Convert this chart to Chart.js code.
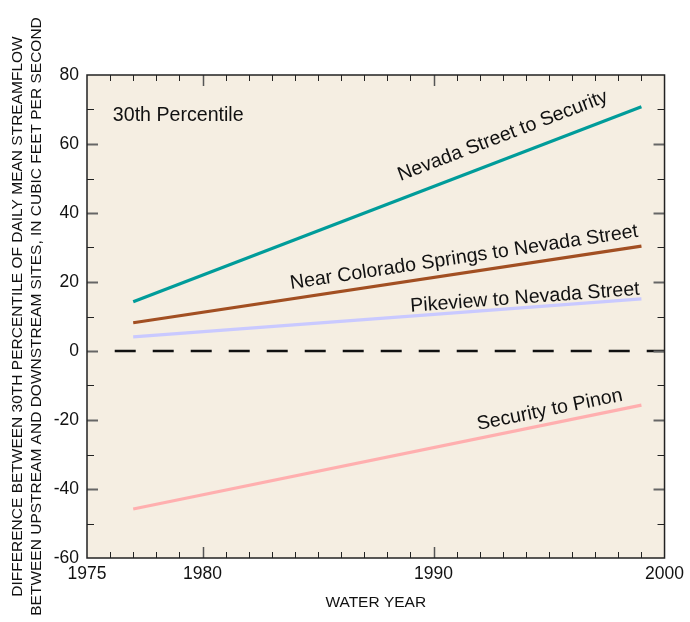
<!DOCTYPE html>
<html><head><meta charset="utf-8">
<script src="https://cdn.jsdelivr.net/npm/chart.js@4/dist/chart.umd.min.js"></script>
<style>html,body{margin:0;padding:0;background:#fff}#wrap{width:690px;height:622px}</style>
</head><body><div id="wrap"><canvas id="c" width="690" height="622"></canvas></div>
<script>
// ---- data ----
const years = [1977, 1999];
const nevadaToSecurity = [14.3, 70.8];
const nearCSToNevada = [8.2, 30.4];
const pikeviewToNevada = [4.1, 15.1];
const securityToPinon = [-45.8, -15.7];
const zeroLineYears = [1976.2, 2000];
const zeroLineValues = [0, 0];
const seriesNames = ["Nevada Street to Security", "Near Colorado Springs to Nevada Street", "Pikeview to Nevada Street", "Security to Pinon"];
const xTickLabels = [1975, 1980, 1990, 2000];
const yTickLabels = [-60, -40, -20, 0, 20, 40, 60, 80];
const panelTitle = "30th Percentile";
const yTitle = ["DIFFERENCE BETWEEN 30TH PERCENTILE OF DAILY MEAN STREAMFLOW", "BETWEEN UPSTREAM AND DOWNSTREAM SITES, IN CUBIC FEET PER SECOND"];
const xTitle = "WATER YEAR";

// ---- styling / annotation placement ----
const FONT = '"Liberation Sans", Arial, Helvetica, sans-serif';
const colors = ["#009c9a", "#a24f22", "#c9c9ff", "#ffafaf"];
const labelPlacement = [
  {series: 0, x: 1993.0, y: 62.3},
  {series: 1, x: 1991.32, y: 27.1},
  {series: 2, x: 1993.96, y: 15.4},
  {series: 3, x: 1995.03, y: -17.1}
];
const panelTitlePos = {x: 1976.12, y: 68.1};

const toXY = (xs, ys) => xs.map((x, i) => ({x: x, y: ys[i]}));
const seriesValues = [nevadaToSecurity, nearCSToNevada, pikeviewToNevada, securityToPinon];

const datasets = seriesValues.map((vals, i) => ({
  label: seriesNames[i],
  data: toXY(years, vals),
  borderColor: colors[i],
  borderWidth: 3.2,
  pointRadius: 0,
  fill: false,
  tension: 0
}));
datasets.push({
  label: "zero",
  data: toXY(zeroLineYears, zeroLineValues),
  borderColor: "#111",
  borderWidth: 2.5,
  borderDash: [21, 17],
  pointRadius: 0,
  fill: false
});

const framePlugin = {
  id: 'frame',
  beforeDraw(chart) {
    const {ctx, chartArea: a} = chart;
    ctx.save();
    ctx.fillStyle = '#f5eee2';
    ctx.fillRect(a.left, a.top, a.right - a.left, a.bottom - a.top);
    ctx.restore();
  },
  afterDatasetsDraw(chart) {
    const {ctx, chartArea: a, scales} = chart;
    const xs = scales.x, ys = scales.y;
    ctx.save();
    for (let yr = Math.ceil(xs.min) + 1; yr < xs.max; yr++) {
      const px = Math.round(xs.getPixelForValue(yr)) + 0.5;
      const major = yr % 10 === 0;
      const len = major ? 11 : 6;
      ctx.strokeStyle = major ? '#555' : '#222';
      ctx.lineWidth = major ? 1.5 : 1;
      ctx.beginPath();
      ctx.moveTo(px, a.bottom); ctx.lineTo(px, a.bottom - len);
      ctx.moveTo(px, a.top); ctx.lineTo(px, a.top + len);
      ctx.stroke();
    }
    for (let v = ys.min + 10; v < ys.max; v += 10) {
      const py = Math.round(ys.getPixelForValue(v)) + 0.5;
      const major = v % 20 === 0;
      const len = major ? 11 : 7;
      ctx.strokeStyle = major ? '#666' : '#222';
      ctx.lineWidth = major ? 2 : 1.2;
      ctx.beginPath();
      ctx.moveTo(a.left, py); ctx.lineTo(a.left + len, py);
      ctx.moveTo(a.right, py); ctx.lineTo(a.right - len, py);
      ctx.stroke();
    }
    ctx.strokeStyle = '#222';
    ctx.lineWidth = 1.5;
    ctx.strokeRect(a.left, a.top, a.right - a.left, a.bottom - a.top);

    ctx.fillStyle = '#111';
    ctx.font = '19.6px ' + FONT;
    ctx.textAlign = 'center';
    ctx.textBaseline = 'middle';
    labelPlacement.forEach(lp => {
      const meta = chart.getDatasetMeta(lp.series);
      const p0 = meta.data[0], p1 = meta.data[meta.data.length - 1];
      const ang = Math.atan2(p1.y - p0.y, p1.x - p0.x);
      ctx.save();
      ctx.translate(xs.getPixelForValue(lp.x), ys.getPixelForValue(lp.y));
      ctx.rotate(ang);
      ctx.fillText(seriesNames[lp.series], 0, 0);
      ctx.restore();
    });
    ctx.textAlign = 'left';
    ctx.fillText(panelTitle, xs.getPixelForValue(panelTitlePos.x), ys.getPixelForValue(panelTitlePos.y));
    ctx.restore();
  }
};

new Chart(document.getElementById('c'), {
  type: 'line',
  data: {datasets},
  plugins: [framePlugin],
  options: {
    responsive: false,
    devicePixelRatio: 1,
    animation: false,
    layout: {padding: {top: 75, right: 23, left: 0, bottom: 0}},
    plugins: {legend: {display: false}, tooltip: {enabled: false}},
    scales: {
      x: {
        type: 'linear',
        min: 1975, max: 2000,
        afterBuildTicks: s => { s.ticks = xTickLabels.map(v => ({value: v})); },
        afterFit: s => { s.height = 64; },
        grid: {display: false, drawTicks: false},
        border: {display: false},
        ticks: {color: '#111', font: {family: FONT, size: 17.5}, padding: 6, maxRotation: 0, autoSkip: false,
                callback: v => String(v)},
        title: {display: true, text: xTitle, color: '#111', font: {family: FONT, size: 15.5}, padding: {top: 0, bottom: 10}}
      },
      y: {
        type: 'linear',
        min: -60, max: 80,
        afterBuildTicks: s => { s.ticks = yTickLabels.map(v => ({value: v})); },
        afterFit: s => { s.width = 87; },
        grid: {display: false, drawTicks: false},
        border: {display: false},
        ticks: {color: '#111', font: {family: FONT, size: 17.5}, padding: 8, autoSkip: false},
        title: {display: true, text: yTitle, color: '#111', font: {family: FONT, size: 15.5, lineHeight: 1.25}, padding: {top: 8, bottom: 0}}
      }
    }
  }
});
</script>
</body></html>
